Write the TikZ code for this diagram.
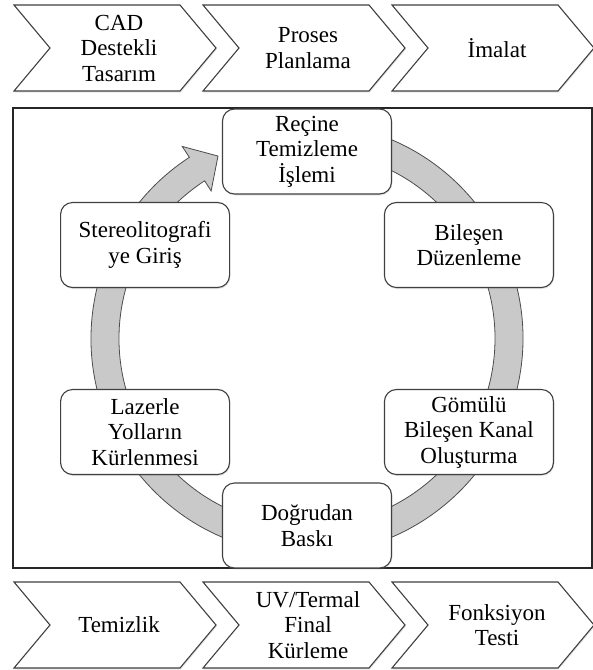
\documentclass[tikz,border=0pt]{standalone}
\usepackage{fontspec}
\setmainfont{Liberation Serif}
\usetikzlibrary{shadows}

\tikzset{
  procfont/.style={font=\fontsize{23}{25.5}\selectfont},
  cyclebox/.style={procfont, draw=black!75, line width=1.1pt, fill=white,
    rounded corners=12pt, minimum width=169pt, minimum height=85pt,
    align=center, inner sep=2pt,
    drop shadow={opacity=0.2, shadow xshift=0.8pt, shadow yshift=-1.5pt}},
  chevron/.style={draw=black!75, line width=1.1pt, fill=white,
    drop shadow={opacity=0.2, shadow xshift=0.8pt, shadow yshift=-1.5pt}},
  chevtext/.style={procfont, align=center, inner sep=0pt},
  ring/.style={draw=black!70, line width=0.8pt, fill=black!21}
}

\begin{document}
\begin{tikzpicture}[x=1pt,y=-1pt]
\useasboundingbox (0,0) rectangle (593,670);

% upper and lower process chains
\foreach \l/\n/\t in {14/cad/{CAD\\Destekli\\Tasarım}, 203/plan/{Proses\\Planlama}, 392/make/{İmalat}} {
  \draw[chevron] (\l,5) -- ++(166,0) -- ++(36,43) -- ++(-36,43) -- ++(-166,0) -- ++(36,-43) -- cycle;
  \node[chevtext] (\n) at (\l+105,48) {\t};
}
\foreach \l/\n/\t in {14/clean/{Temizlik}, 203/cure/{UV/Termal\\Final\\Kürleme}, 392/test/{Fonksiyon\\Testi}} {
  \draw[chevron] (\l,582) -- ++(166,0) -- ++(36,43) -- ++(-36,43) -- ++(-166,0) -- ++(36,-43) -- cycle;
  \node[chevtext] (\n) at (\l+105,625) {\t};
}

\draw[line width=1.8pt, black!85] (13,108) rectangle (592,568);

\begin{scope}[shift={(307,338.5)}]
  % circular arrow behind the boxes
  \draw[ring] (-80:216) arc[start angle=-80, end angle=237, radius=216]
    -- (237:229) -- (244:203) -- (237:176) -- (237:188)
    arc[start angle=237, end angle=-80, radius=188] -- cycle;
  \node[cyclebox] (resin)   at (-90:187) {Reçine\\Temizleme\\İşlemi};
  \node[cyclebox] (layout)  at (-30:187) {Bileşen\\Düzenleme};
  \node[cyclebox] (channel) at (30:187)  {Gömülü\\Bileşen Kanal\\Oluşturma};
  \node[cyclebox] (print)   at (90:187)  {Doğrudan\\Baskı};
  \node[cyclebox] (laser)   at (150:187) {Lazerle\\Yolların\\Kürlenmesi};
  \node[cyclebox] (stl)     at (210:187) {Stereolitografi\\ye Giriş};
\end{scope}
\end{tikzpicture}
\end{document}
